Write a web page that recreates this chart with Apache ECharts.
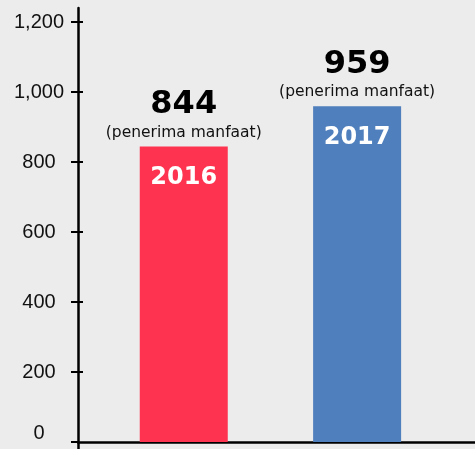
<!DOCTYPE html>
<html>
<head>
<meta charset="utf-8">
<script src="https://cdn.jsdelivr.net/npm/echarts@6/dist/echarts.min.js"></script>
<style>
  html, body { margin: 0; padding: 0; background: #ececec; }
  #chart { width: 475px; height: 449px; }
</style>
</head>
<body>
<div id="chart"></div>
<script>
// data
const years = ['2016', '2017'];
const values = [844, 959];
const barColors = ['#fd334f', '#4f7fbc'];
const yTicks = [0, 200, 400, 600, 800, 1000, 1200];
const unitLabel = '(penerima manfaat)';

const myChart = echarts.init(document.getElementById('chart'));
const font = '"Liberation Sans", Arial, sans-serif';
const wide = '"DejaVu Sans", sans-serif';

const option = {
    backgroundColor: '#ececec',
    animation: false,
    grid: { left: 78, right: 0, top: 8, bottom: 0 },
    xAxis: {
        type: 'value',
        min: 0.39,
        max: 2.68,
        axisLine: { onZero: true, lineStyle: { color: '#000', width: 2.5 } },
        axisTick: { show: false },
        axisLabel: { show: false },
        splitLine: { show: false }
    },
    yAxis: [{
        type: 'value',
        min: -20,
        max: 1240,
        axisLine: { show: true, lineStyle: { color: '#000', width: 2.5 } },
        axisTick: { show: true, customValues: yTicks, length: 7, lineStyle: { color: '#000', width: 2 } },
        axisLabel: {
            customValues: yTicks,
            margin: 39,
            align: 'center',
            color: '#111',
            fontSize: 20,
            fontFamily: font,
            formatter: v => v === 0 ? '{z|0}' : v.toLocaleString('en-US'),
            rich: { z: { fontSize: 20, fontFamily: font, color: '#111', padding: [0, 0, 18, 0] } }
        },
        splitLine: { show: false }
    }, {
        // inside half of the crossing ticks
        type: 'value',
        position: 'left',
        min: -20,
        max: 1240,
        axisLine: { show: true, lineStyle: { color: 'rgba(0,0,0,0)', width: 0 } },
        axisTick: { show: true, inside: true, customValues: yTicks.slice(1), length: 5, lineStyle: { color: '#000', width: 2 } },
        axisLabel: { show: false, customValues: yTicks.slice(1) },
        splitLine: { show: false }
    }],
    series: [{
        type: 'bar',
        barWidth: 88,
        data: values.map((v, i) => ({ value: [i + 1, v], itemStyle: { color: barColors[i] } })),
        label: {
            show: true,
            position: 'insideTop',
            distance: 19,
            color: '#fff',
            fontSize: 24,
            lineHeight: 24,
            fontWeight: 'bold',
            fontFamily: wide,
            formatter: p => years[p.dataIndex]
        }
    }, {
        // labels above the bars
        type: 'bar',
        barWidth: 88,
        barGap: '-100%',
        silent: true,
        itemStyle: { color: 'transparent' },
        data: values.map((v, i) => [i + 1, v]),
        label: {
            show: true,
            position: 'top',
            distance: 5,
            formatter: p => '{n|' + p.value[1] + '}\n{u|' + unitLabel + '}',
            rich: {
                n: { fontSize: 32, fontWeight: 'bold', color: '#000', fontFamily: wide, lineHeight: 38 },
                u: { fontSize: 15.5, color: '#111', fontFamily: wide, lineHeight: 18 }
            }
        }
    }]
};

myChart.setOption(option);
</script>
</body>
</html>
